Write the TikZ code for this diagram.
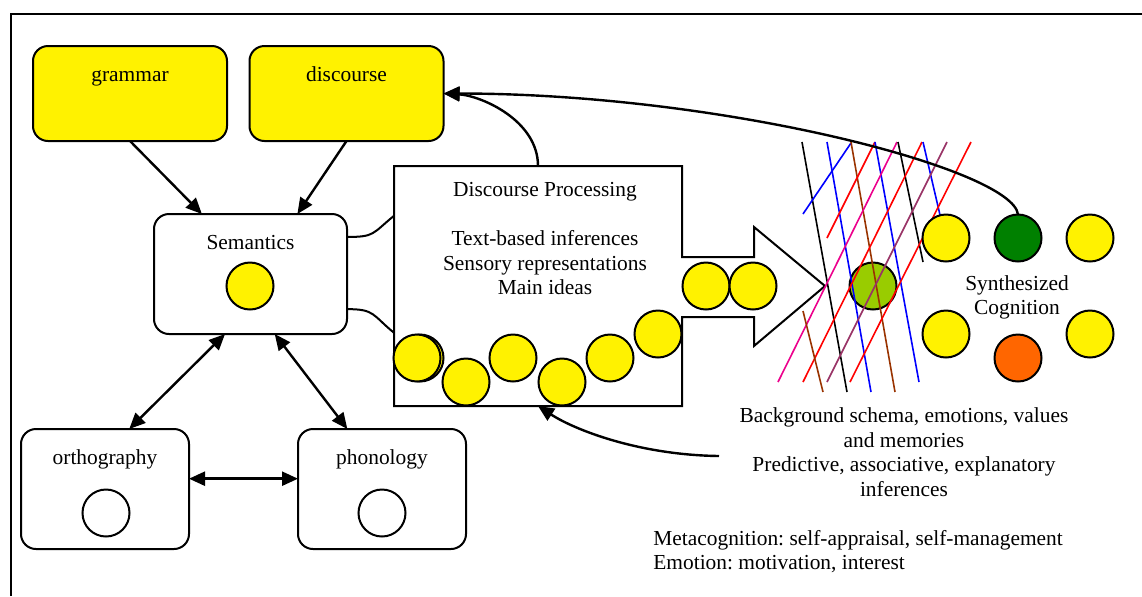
\documentclass[tikz,border=0pt]{standalone}
\usepackage{fontspec}
\setmainfont{Liberation Serif}
\frenchspacing
\usetikzlibrary{arrows.meta}
\definecolor{lineBrown}{HTML}{993300}
\definecolor{linePurple}{HTML}{993366}
\definecolor{leafGreen}{HTML}{99CC00}
\definecolor{cogGreen}{HTML}{008000}
\definecolor{cogOrange}{HTML}{FF6600}

\begin{document}
\begin{tikzpicture}
[x=0.5pt,y=-0.5pt,
  every node/.style={font=\fontsize{10.7}{12.3}\selectfont},%
  plainBox/.style={shape=rectangle,rounded corners=7.5pt,draw,line width=1pt,inner sep=0pt,outer sep=0pt},%
  yellowBox/.style={plainBox,fill=yellow,minimum width=97pt,minimum height=47.5pt},%
  whiteBox/.style={plainBox,fill=white,minimum width=84pt,minimum height=60pt},%
  boxText/.style={anchor=base,yshift=-17.75pt},%
  bubble/.style={shape=circle,draw,line width=1pt,fill=yellow,minimum size=23.5pt,inner sep=0pt,outer sep=0pt},%
  darkLine/.style={line width=1pt},%
  darkArrow/.style={line width=1.2pt,-{Triangle[length=8pt,width=7pt]}},%
  twoArrow/.style={line width=1.2pt,{Triangle[length=8pt,width=7pt]}-{Triangle[length=8pt,width=7pt]}},%
  thinLine/.style={line width=0.8pt}]
\useasboundingbox (0,0) rectangle (1142,596);
%% frame
\draw[line width=1pt] (10.5,596) -- (10.5,14) -- (1142,14);
%% the boxes
\node[yellowBox,label={[boxText]north:grammar}] (grammar) at (130,93.5) {};
\node[yellowBox,label={[boxText]north:discourse}] (discourse) at (346.5,93.5) {};
\node[plainBox,minimum width=96.5pt,minimum height=60pt,label={[boxText]north:Semantics}] (semantics) at (250.5,274) {};
\node[whiteBox,label={[boxText]north:orthography}] (ortho) at (105,489) {};
\node[whiteBox,label={[boxText]north:phonology}] (phono) at (382,489) {};
\node[bubble] (semDot) at (250,286) {};
\node[bubble,fill=white] (orthoDot) at (106,513) {};
\node[bubble,fill=white] (phonoDot) at (382,513) {};
%% arrows between the boxes
\draw[darkArrow] (grammar.south) -- (semantics.129);
\draw[darkArrow] (discourse.south) -- (semantics.52);
\draw[twoArrow] (semantics.247) -- (ortho.68);
\draw[twoArrow] (semantics.292) -- (phono.120);
\draw[twoArrow] (ortho.7) -- (phono.173);
%% discourse processing arrow
\node[shape=rectangle,minimum width=144pt,minimum height=120pt,inner sep=0pt,outer sep=0pt] (proc) at (538,286) {};
\draw[line width=1pt,fill=white] (proc.north east) -- ++(0,91) -- ++(72,0) -- ++(0,-30) -- ++(71,59)
  -- ++(-71,60) -- ++(0,-29) -- ++(-72,0) -- (proc.south east) -- (proc.south west) -- (proc.north west) -- cycle;
\node[align=center] (procText) at (545,238.5) {Discourse Processing\\[12.3pt]Text-based inferences\\Sensory representations\\Main ideas};
\draw[line width=1pt] (semantics.21) .. controls +(28,0) and +(-22,18) .. (proc.154);
\draw[line width=1pt] (semantics.340) .. controls +(28,0) and +(-22,-18) .. (proc.198);
%% the chain of ideas
\foreach \name/\x/\y in {p0/420/358, p1/417/358, p2/466/382, p3/513/358, p4/562/382,
  p5/610/358, p6/658/334, p7/706/286, p8/753/286}
{
  \node[bubble] (\name) at (\x,\y) {};
}
\node[bubble,fill=leafGreen] (mixDot) at (873,286) {};
%% background lines
\foreach \col/\xa/\ya/\xb/\yb in {black/802/142/847/392, blue/803/214/851/143,
  blue/827/142/871/392, lineBrown/851/142/895/392, red/875/142/827/238,
  blue/875/142/919/382, magenta/897/142/778/382, black/898/142/923/262,
  red/922/142/803/382, blue/923/142/940/215, linePurple/947/142/827/382,
  red/971/142/850/382, lineBrown/803/311/823/392}
{
  \draw[thinLine,color=\col] (\xa,\ya) -- (\xb,\yb);
}
%% synthesized cognition
\foreach \name/\x/\y/\col in {s1/946/238/yellow, s2/1018/238/cogGreen, s3/1090/238/yellow,
  s4/946/334/yellow, s5/1018/358/cogOrange, s6/1090/334/yellow}
{
  \node[bubble,fill=\col] (\name) at (\x,\y) {};
}
\node[align=center] (synth) at (1017,297.5) {Synthesized\\Cognition};
%% feedback arrows
\draw[darkArrow] (proc.north) .. controls +(0,-46) and +(37,2) .. (discourse.east);
\draw[darkArrow] (s2.north) .. controls +(-5,-45) and +(280,0) .. (discourse.east);
\node[align=center] (bgText) at (904,452) {Background schema, emotions, values\\and memories\\Predictive, associative, explanatory\\inferences};
\coordinate (bgTip) at (719,456);
\draw[darkArrow] (bgTip) .. controls +(-80,-1) and +(37,24) .. (proc.south);
\node[align=left,anchor=west,inner sep=0pt] (metaText) at (653,551.5) {Metacognition: self-appraisal, self-management\\Emotion: motivation, interest};
\end{tikzpicture}
\end{document}
